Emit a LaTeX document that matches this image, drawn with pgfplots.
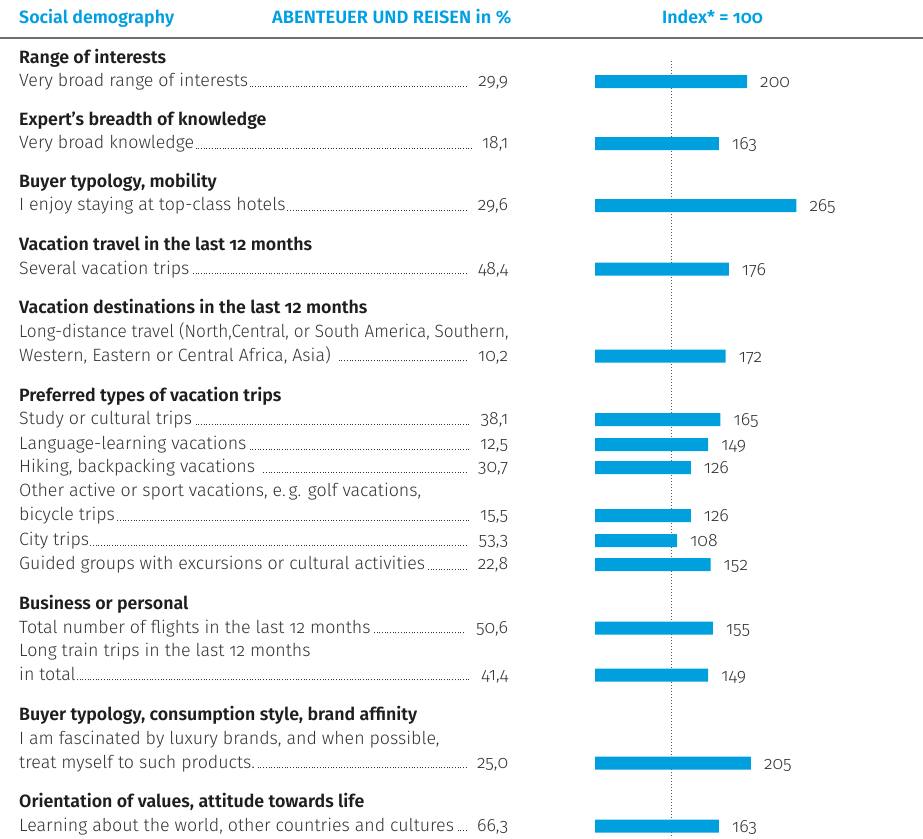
\documentclass[border=0pt]{standalone}
\usepackage{fontspec}
\setmainfont{Fira Sans}[UprightFont=* Light, BoldFont=* SemiBold, Numbers=OldStyle]
\usepackage{pgfplots}
\pgfplotsset{compat=1.18}
\definecolor{barblue}{RGB}{0,160,222}
\definecolor{hdblue}{RGB}{0,159,227}
\definecolor{txt}{RGB}{51,51,51}
\definecolor{hd}{RGB}{30,30,30}
\definecolor{rulegray}{RGB}{110,110,110}
\newcommand\fs{\fontsize{17.8}{20}\selectfont}
\newcommand\lead{\leaders\hbox to 2.7pt{\hss\rule{0.9pt}{0.9pt}\hss}\hfill}
\newcommand\row[3]{\node[anchor=base west, inner sep=0pt, text=txt] at (19,{838-#1}) {\fs\hbox to 489pt{#2\lead\hspace{9pt}#3}};}
\newcommand\plain[2]{\node[anchor=base west, inner sep=0pt, text=txt] at (19,{838-#1}) {\fs #2};}
\newcommand\head[2]{\node[anchor=base west, inner sep=0pt, text=hd] at (19,{838-#1}) {\fs\bfseries #2};}
\newcommand\toptxt[2]{\node[anchor=base west, inner sep=0pt, text=hdblue] at (#1,{838-24}) {\fs\bfseries #2};}
\begin{document}
\begin{tikzpicture}[x=1pt,y=1pt]
\useasboundingbox (0,0) rectangle (923,838);
\begin{axis}[at={(0,0)}, anchor=south west, scale only axis,
  width=923pt, height=838pt,
  xmin=-782.89, xmax=431.58, ymin=0, ymax=838, y dir=reverse,
  hide axis, clip=false]
\addplot[color=rulegray!80!black, line width=0.9pt, dash pattern=on 1pt off 2pt, mark=none] coordinates {(100,61) (100,838)};
\addplot[xbar, fill=barblue, draw=none, bar width=13,
  point meta=explicit symbolic, nodes near coords,
  nodes near coords style={anchor=base west, xshift=13pt, yshift=-6pt, text=txt, font=\fs, inner sep=0pt}]
  coordinates {
  (200,81.5) [200]
  (163,143.5) [163]
  (265,205.5) [265]
  (176,269) [176]
  (172,356) [172]
  (165,419.5) [165]
  (149,444.5) [149]
  (126,467.5) [126]
  (126,515.5) [126]
  (108,540.5) [108]
  (152,564.5) [152]
  (155,628) [155]
  (149,675) [149]
  (205,763) [205]
  (163,826) [163]
  };
\end{axis}
\draw[line width=2pt, rulegray] (0,{838-38}) -- (923,{838-38});
\toptxt{19}{Social demography}
\toptxt{272}{\scalebox{1.025}[1]{ABENTEUER UND REISEN in \%}}
\toptxt{662}{Index* = 100}
\head{63.3}{Range of interests}
\row{86.8}{Very broad range of interests}{29,9}
\head{125.3}{Expert’s breadth of knowledge}
\row{148.8}{Very broad knowledge}{18,1}
\head{187.3}{Buyer typology, mobility}
\row{210.8}{I enjoy staying at top-class hotels}{29,6}
\head{250.8}{Vacation travel in the last 12 months}
\row{274.3}{Several vacation trips}{48,4}
\head{313.8}{Vacation destinations in the last 12 months}
\plain{337.3}{\scalebox{0.965}[1]{Long-distance travel (North,Central, or South America, Southern,}}
\row{361.3}{Western, Eastern or Central Africa, Asia)\ }{10,2}
\head{401.3}{Preferred types of vacation trips}
\row{424.8}{Study or cultural trips}{38,1}
\row{449.8}{Language-learning vacations}{12,5}
\row{472.8}{Hiking, backpacking vacations\ }{30,7}
\plain{496.8}{Other active or sport vacations, e.\,g. golf vacations,}
\row{520.8}{bicycle trips}{15,5}
\row{545.8}{City trips}{53,3}
\row{569.8}{Guided groups with excursions or cultural activities}{22,8}
\head{609.8}{Business or personal}
\row{633.3}{Total number of flights in the last 12 months}{50,6}
\plain{656.3}{Long train trips in the last 12 months}
\row{680.3}{in total}{41,4}
\head{720.8}{Buyer typology, consumption style, brand affinity}
\plain{744.3}{I am fascinated by luxury brands, and when possible,}
\row{768.3}{treat myself to such products.}{25,0}
\head{807.8}{Orientation of values, attitude towards life}
\row{831.3}{Learning about the world, other countries and cultures}{66,3}
\end{tikzpicture}
\end{document}
